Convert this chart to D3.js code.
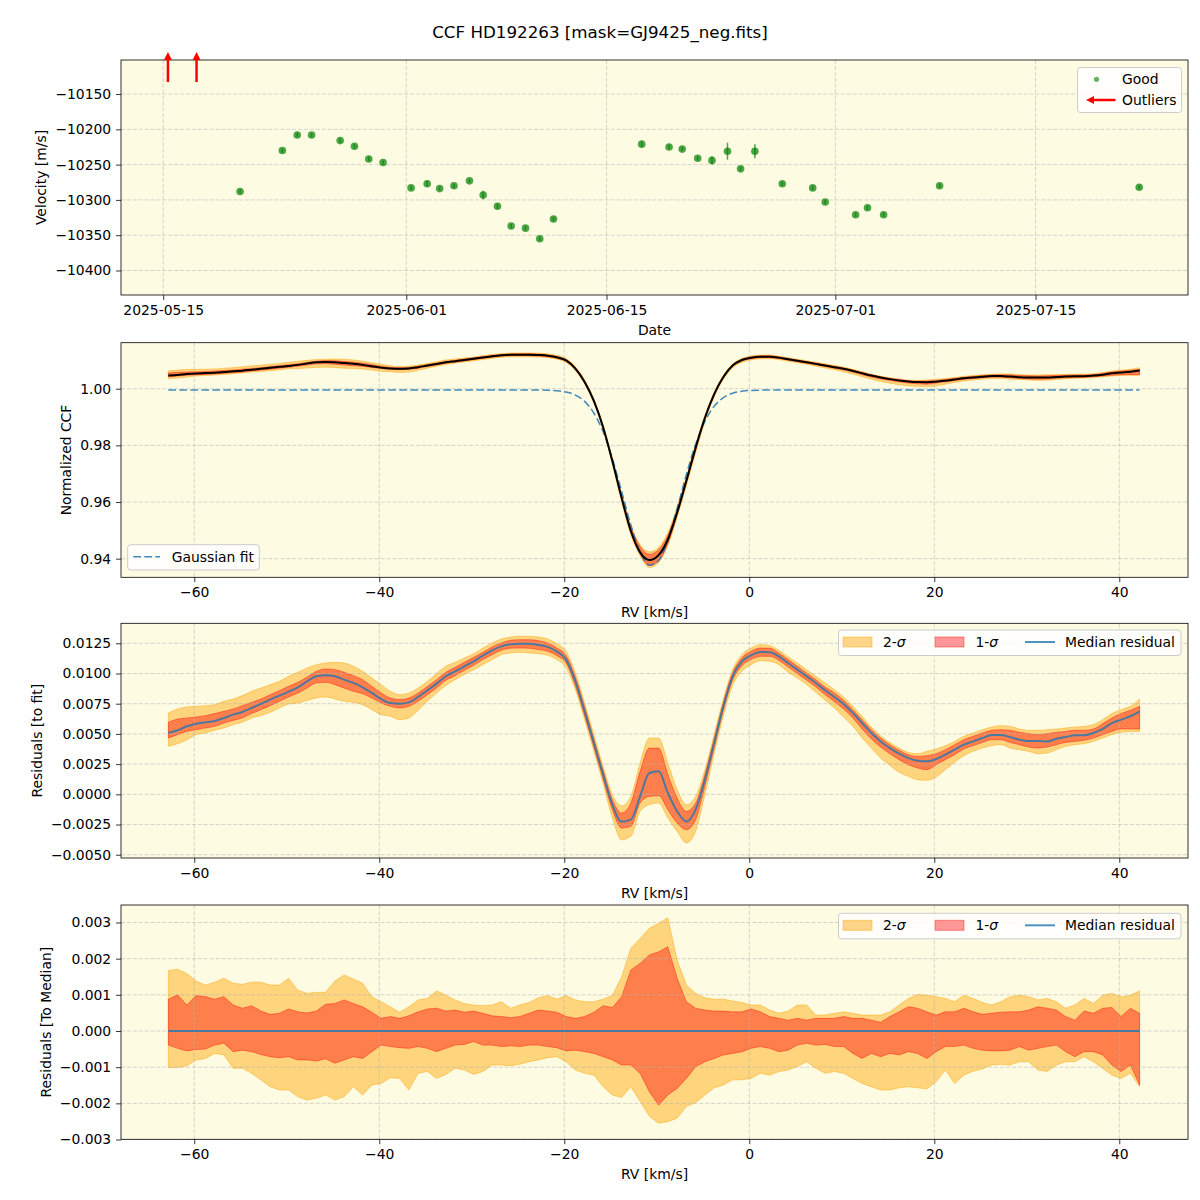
<!doctype html>
<html lang=en>
<head>
<meta charset="utf-8">
<title>CCF HD192263</title>
<script src="https://cdn.jsdelivr.net/npm/d3@7"></script>
<style>
body { margin: 0; background: #fff; }
svg text { font-family: "DejaVu Sans", sans-serif; fill: #000; }
</style>
</head>
<body>
<div id=chart></div>
<script>
// ---------- data ----------
var goodDates = ["2025-05-20T09:00","2025-05-23T08:00","2025-05-24T09:00","2025-05-25T09:00","2025-05-27T09:00",
  "2025-05-28T09:00","2025-05-29T09:00","2025-05-30T09:00","2025-06-01T08:00","2025-06-02T11:00",
  "2025-06-03T08:00","2025-06-04T08:00","2025-06-05T10:00","2025-06-06T09:00","2025-06-07T09:00",
  "2025-06-08T08:00","2025-06-09T08:00","2025-06-10T08:00","2025-06-11T07:00","2025-06-17T11:00",
  "2025-06-19T09:00","2025-06-20T07:00","2025-06-21T09:00","2025-06-22T09:00","2025-06-23T11:00",
  "2025-06-24T09:00","2025-06-25T09:00","2025-06-27T07:00","2025-06-29T10:00","2025-06-30T07:00",
  "2025-07-02T10:00","2025-07-03T06:00","2025-07-04T09:00","2025-07-08T07:00","2025-07-22T06:00"];
var goodVel = [-10288,-10230,-10208,-10208,-10216,-10224,-10242,-10247,-10283,-10277,
  -10284,-10280,-10273,-10293,-10309,-10337,-10340,-10355,-10327,-10221,
  -10225,-10228,-10241,-10244,-10231,-10256,-10231,-10277,-10283,-10303,
  -10321,-10311,-10321,-10280,-10282];
var goodErr = [3,3,3,3,3,3,3,3,3,4, 3,3,3,6,4,3,3,3,3,4, 3,3,3,6,12,3,10,3,3,3, 3,3,3,3,3];
var outlierDates = ["2025-05-15T08:00","2025-05-17T08:00"];

var dateTicks = ["2025-05-15","2025-06-01","2025-06-15","2025-07-01","2025-07-15"];
var velTicks = [-10150,-10200,-10250,-10300,-10350,-10400];
var rvTicks = [-60,-40,-20,0,20,40];
var ccfTicks = [0.94,0.96,0.98,1.00];
var resFitTicks = [-0.005,-0.0025,0,0.0025,0.005,0.0075,0.01,0.0125];
var resMedTicks = [-0.003,-0.002,-0.001,0,0.001,0.002,0.003];

var rv = [-62.8,-61.8,-60.8,-59.8,-58.8,-57.8,-56.8,-55.8,-54.8,-53.8,
  -52.8,-51.8,-50.8,-49.8,-48.8,-47.8,-46.8,-45.8,-44.8,-43.8,
  -42.8,-41.8,-40.8,-39.8,-38.8,-37.8,-36.8,-35.8,-34.8,-33.8,
  -32.8,-31.8,-30.8,-29.8,-28.8,-27.8,-26.8,-25.8,-24.8,-23.8,
  -22.8,-21.8,-20.8,-19.8,-18.8,-17.8,-16.8,-15.8,-14.8,-13.8,
  -12.8,-11.8,-10.8,-9.8,-8.8,-7.8,-6.8,-5.8,-4.8,-3.8,
  -2.8,-1.8,-0.8,0.2,1.2,2.2,3.2,4.2,5.2,6.2,
  7.2,8.2,9.2,10.2,11.2,12.2,13.2,14.2,15.2,16.2,
  17.2,18.2,19.2,20.2,21.2,22.2,23.2,24.2,25.2,26.2,
  27.2,28.2,29.2,30.2,31.2,32.2,33.2,34.2,35.2,36.2,
  37.2,38.2,39.2,40.2,41.2,42.2];

// Gaussian fit of the CCF
var gaussFit = [0.99955,0.99955,0.99955,0.99955,0.99955,0.99955,0.99955,0.99955,0.99955,0.99955,
  0.99955,0.99955,0.99955,0.99955,0.99955,0.99955,0.99955,0.99955,0.99955,0.99955,
  0.99955,0.99955,0.99955,0.99955,0.99955,0.99955,0.99955,0.99955,0.99955,0.99955,
  0.99955,0.99955,0.99955,0.99955,0.99955,0.99955,0.99955,0.99955,0.99955,0.99955,
  0.99953,0.99946,0.99929,0.99882,0.99775,0.99553,0.99143,0.98479,0.97531,0.96377,
  0.95187,0.94239,0.93775,0.93935,0.94666,0.95770,0.96973,0.98039,0.98845,0.99376,
  0.99683,0.99839,0.99911,0.99940,0.99950,0.99955,0.99955,0.99955,0.99955,0.99955,
  0.99955,0.99955,0.99955,0.99955,0.99955,0.99955,0.99955,0.99955,0.99955,0.99955,
  0.99955,0.99955,0.99955,0.99955,0.99955,0.99955,0.99955,0.99955,0.99955,0.99955,
  0.99955,0.99955,0.99955,0.99955,0.99955,0.99955,0.99955,0.99955,0.99955,0.99955,
  0.99955,0.99955,0.99955,0.99955,0.99955,0.99955];

// residuals to fit, units of 1e-3
var fitMed = [5.08,5.30,5.63,5.85,5.96,6.07,6.32,6.60,6.81,7.15,
  7.48,7.84,8.17,8.50,8.86,9.35,9.77,9.85,9.77,9.49,
  9.22,8.86,8.39,7.89,7.56,7.50,7.61,8.06,8.61,9.16,
  9.77,10.18,10.60,11.01,11.48,11.92,12.25,12.42,12.47,12.47,
  12.36,12.20,11.81,11.15,9.35,6.87,4.25,1.63,-0.86,-2.27,
  -2.10,-0.17,1.77,1.90,0.11,-1.41,-2.24,-1.27,1.21,4.25,
  7.28,9.77,11.01,11.51,11.78,11.75,11.42,10.87,10.32,9.77,
  9.22,8.61,8.06,7.48,6.73,5.90,5.08,4.38,3.83,3.36,
  3.00,2.78,2.73,2.92,3.28,3.70,4.11,4.38,4.66,4.91,
  4.91,4.74,4.52,4.41,4.41,4.38,4.60,4.74,4.88,4.88,
  5.08,5.41,5.90,6.18,6.46,6.87];
var fitHi1 = [5.96,6.23,6.32,6.40,6.51,6.68,6.87,7.06,7.34,7.61,
  7.89,8.25,8.58,8.94,9.27,9.71,10.18,10.37,10.32,10.10,
  9.82,9.49,8.94,8.39,7.97,7.84,7.97,8.39,8.94,9.49,
  10.10,10.51,10.93,11.34,11.75,12.20,12.53,12.75,12.80,12.80,
  12.72,12.53,12.11,11.48,9.71,7.23,4.58,1.98,-0.44,-1.55,
  -0.72,1.90,3.83,3.83,1.63,-0.30,-1.41,-0.72,1.63,4.58,
  7.61,10.04,11.29,11.84,12.11,12.09,11.70,11.15,10.60,10.04,
  9.49,8.88,8.39,7.78,7.01,6.18,5.35,4.66,4.11,3.64,
  3.28,3.14,3.20,3.36,3.70,4.11,4.52,4.80,5.08,5.30,
  5.35,5.30,5.13,5.02,4.94,5.02,5.13,5.21,5.30,5.30,
  5.41,5.85,6.32,6.68,6.95,7.28];
var fitLo1 = [4.67,4.94,5.21,5.35,5.49,5.63,5.90,6.12,6.32,6.68,
  7.01,7.34,7.70,8.06,8.39,8.80,9.22,9.27,9.08,8.80,
  8.53,8.33,7.97,7.56,7.28,7.15,7.28,7.70,8.25,8.80,
  9.44,9.82,10.26,10.68,11.15,11.56,11.92,12.09,12.11,12.09,
  11.98,11.84,11.48,10.87,9.00,6.51,3.92,1.27,-1.27,-2.79,
  -2.65,-0.72,-0.17,-0.11,-1.27,-2.38,-2.93,-2.10,0.66,3.83,
  6.95,9.44,10.65,11.15,11.42,11.42,11.09,10.54,9.99,9.44,
  8.88,8.25,7.67,7.06,6.32,5.41,4.58,3.92,3.36,2.87,
  2.45,2.18,2.04,2.45,2.87,3.28,3.75,4.03,4.30,4.52,
  4.52,4.30,4.11,3.92,3.83,3.92,4.11,4.30,4.38,4.47,
  4.66,4.94,5.21,5.41,5.41,5.41];
var fitHi2 = [6.73,7.06,7.23,7.28,7.34,7.42,7.70,7.89,8.17,8.53,
  8.80,9.08,9.35,9.77,10.10,10.46,10.73,10.87,10.93,10.87,
  10.60,10.18,9.63,9.08,8.53,8.25,8.39,8.80,9.35,10.00,
  10.60,10.93,11.29,11.64,12.11,12.53,12.86,13.02,13.08,13.08,
  13.02,12.86,12.47,11.84,10.04,7.56,4.94,2.32,-0.03,-0.94,
  -0.17,2.59,4.66,4.66,2.59,0.39,-0.86,-0.17,2.04,4.94,
  7.89,10.32,11.56,12.11,12.39,12.31,11.92,11.37,10.87,10.32,
  9.77,9.22,8.66,8.06,7.28,6.46,5.57,4.85,4.30,3.83,
  3.47,3.36,3.56,3.75,4.03,4.38,4.80,5.08,5.35,5.57,
  5.68,5.63,5.41,5.30,5.30,5.35,5.41,5.49,5.57,5.63,
  5.77,6.18,6.68,7.01,7.28,7.89];
var fitLo2 = [3.98,4.19,4.52,4.94,5.08,5.30,5.49,5.77,5.96,6.32,
  6.51,6.79,7.15,7.48,7.56,7.78,7.97,8.06,7.89,7.70,
  7.61,7.42,7.01,6.59,6.46,6.18,6.32,6.95,7.70,8.39,
  9.00,9.49,9.91,10.32,10.73,11.15,11.56,11.70,11.75,11.70,
  11.64,11.51,11.15,10.46,8.66,6.18,3.56,0.88,-1.96,-3.76,
  -3.48,-1.41,-0.86,-0.72,-1.96,-3.07,-4.03,-3.07,-0.03,3.36,
  6.51,9.00,10.18,10.73,11.06,11.01,10.73,10.10,9.63,9.08,
  8.44,7.78,7.15,6.40,5.63,4.66,3.83,3.00,2.40,1.82,
  1.49,1.21,1.16,1.43,2.04,2.65,3.20,3.56,3.83,4.03,
  4.11,3.83,3.69,3.56,3.36,3.42,3.69,3.97,4.11,4.19,
  4.38,4.66,4.94,5.13,5.21,5.21];

// residuals to median, units of 1e-3
var medMed = [0,0,0,0,0,0,0,0,0,0, 0,0,0,0,0,0,0,0,0,0, 0,0,0,0,0,0,0,0,0,0,
  0,0,0,0,0,0,0,0,0,0, 0,0,0,0,0,0,0,0,0,0, 0,0,0,0,0,0,0,0,0,0,
  0,0,0,0,0,0,0,0,0,0, 0,0,0,0,0,0,0,0,0,0, 0,0,0,0,0,0,0,0,0,0,
  0,0,0,0,0,0,0,0,0,0, 0,0,0,0,0,0];
var medHi2 = [1.67,1.71,1.59,1.38,1.27,1.35,1.46,1.32,1.29,1.35,
  1.35,1.27,1.27,1.46,1.13,1.04,1.07,1.07,1.38,1.55,
  1.44,1.32,0.95,0.81,0.67,0.52,0.67,0.86,0.90,1.11,
  0.99,0.86,0.76,0.72,0.70,0.72,0.81,0.63,0.72,0.79,
  0.92,0.98,0.88,0.98,0.86,0.81,0.81,0.88,0.98,1.50,
  2.29,2.56,2.84,2.98,3.13,1.96,1.27,1.04,0.92,0.88,
  0.88,0.83,0.79,0.72,0.72,0.58,0.49,0.55,0.72,0.72,
  0.44,0.44,0.49,0.53,0.49,0.44,0.44,0.44,0.53,0.72,
  0.90,1.01,0.99,0.95,0.90,0.81,0.99,0.90,0.79,0.72,
  0.81,0.95,0.99,0.95,0.86,0.90,0.81,0.63,0.72,0.90,
  0.76,0.99,1.04,0.95,0.99,1.11];
var medHi1 = [0.88,1.00,0.72,0.98,0.95,0.88,0.95,0.72,0.63,0.70,
  0.55,0.46,0.49,0.61,0.53,0.50,0.55,0.74,0.76,0.86,
  0.76,0.67,0.52,0.35,0.40,0.35,0.42,0.53,0.61,0.63,
  0.55,0.58,0.52,0.55,0.49,0.42,0.40,0.37,0.40,0.49,
  0.58,0.55,0.52,0.40,0.35,0.40,0.52,0.70,0.65,0.95,
  1.69,1.87,2.10,2.19,2.33,1.46,0.81,0.63,0.58,0.55,
  0.55,0.53,0.53,0.61,0.53,0.40,0.35,0.30,0.35,0.30,
  0.35,0.35,0.35,0.40,0.35,0.35,0.30,0.24,0.40,0.53,
  0.67,0.63,0.53,0.44,0.53,0.53,0.63,0.53,0.46,0.49,
  0.52,0.53,0.53,0.58,0.67,0.63,0.58,0.40,0.30,0.55,
  0.49,0.63,0.65,0.40,0.63,0.49];
var medLo1 = [-0.39,-0.48,-0.55,-0.51,-0.50,-0.39,-0.34,-0.57,-0.53,-0.57,
  -0.65,-0.71,-0.74,-0.71,-0.80,-0.80,-0.83,-0.77,-0.89,-0.80,
  -0.71,-0.76,-0.57,-0.39,-0.43,-0.46,-0.48,-0.43,-0.48,-0.57,
  -0.48,-0.39,-0.37,-0.29,-0.39,-0.39,-0.43,-0.41,-0.43,-0.39,
  -0.39,-0.43,-0.46,-0.55,-0.53,-0.57,-0.62,-0.71,-0.80,-0.94,
  -0.94,-1.17,-1.68,-2.05,-1.77,-1.59,-1.31,-0.99,-0.85,-0.76,
  -0.66,-0.62,-0.57,-0.48,-0.43,-0.48,-0.57,-0.53,-0.39,-0.34,
  -0.39,-0.37,-0.43,-0.43,-0.62,-0.76,-0.62,-0.71,-0.62,-0.66,
  -0.57,-0.62,-0.76,-0.57,-0.43,-0.43,-0.39,-0.48,-0.53,-0.55,
  -0.55,-0.53,-0.43,-0.53,-0.48,-0.43,-0.39,-0.57,-0.71,-0.57,
  -0.57,-0.66,-0.94,-1.12,-0.94,-1.49];
var medLo2 = [-1.01,-1.01,-0.96,-0.80,-0.76,-0.62,-0.66,-1.03,-1.03,-1.17,
  -1.35,-1.54,-1.63,-1.63,-1.82,-1.91,-1.86,-1.77,-1.91,-1.82,
  -1.54,-1.77,-1.49,-1.45,-1.29,-1.31,-1.63,-1.17,-1.12,-1.31,
  -1.20,-1.03,-1.08,-1.20,-1.12,-0.94,-0.94,-0.96,-0.92,-0.85,
  -0.80,-0.74,-0.71,-0.85,-1.08,-1.17,-1.22,-1.54,-1.77,-1.84,
  -1.54,-1.95,-2.36,-2.55,-2.51,-2.41,-2.09,-1.98,-1.77,-1.57,
  -1.49,-1.35,-1.35,-1.31,-1.17,-1.22,-1.12,-1.08,-0.98,-0.85,
  -1.03,-1.17,-1.12,-1.17,-1.31,-1.45,-1.54,-1.63,-1.63,-1.57,
  -1.54,-1.57,-1.60,-1.40,-1.08,-1.45,-1.22,-1.11,-1.05,-0.94,
  -0.92,-0.94,-0.85,-0.85,-1.08,-1.12,-0.94,-0.85,-0.85,-0.71,
  -0.85,-1.03,-1.22,-1.31,-1.17,-1.54];

// ---------- layout ----------
var L = 121, R = 1188;
var bgCol = "#fefbe3";
var fs = 13.9;

var svg = d3.select("#chart").append("svg")
  .attr("width", 1200).attr("height", 1200);
svg.append("rect").attr("width", 1200).attr("height", 1200).attr("fill", "white");

svg.append("text").attr("x", 600).attr("y", 38)
  .attr("text-anchor", "middle").style("font-size", "16.7px")
  .text("CCF HD192263 [mask=GJ9425_neg.fits]");

var parseT = d => new Date(d + (d.length > 10 ? ":00Z" : "T00:00:00Z"));

// panel frame, grid and axes
function panel(top, bottom, x, y, xt, yt, xfmt, yfmt) {
  var g = svg.append("g");
  g.append("rect").attr("x", L).attr("y", top).attr("width", R - L)
    .attr("height", bottom - top).attr("fill", bgCol);
  var layers = {
    fills: g.append("g"),
    grid: g.append("g"),
    lines: g.append("g"),
    axes: g.append("g")
  };
  var gl = layers.grid.attr("stroke", "#b0b0b0").attr("stroke-opacity", 0.65)
    .attr("stroke-width", 0.8).attr("stroke-dasharray", "4.1,1.8");
  xt.forEach(function(t) {
    gl.append("line").attr("x1", x(t)).attr("x2", x(t)).attr("y1", top).attr("y2", bottom);
  });
  yt.forEach(function(t) {
    gl.append("line").attr("x1", L).attr("x2", R).attr("y1", y(t)).attr("y2", y(t));
  });
  var xa = layers.axes.append("g").attr("transform", "translate(0," + bottom + ")")
    .call(d3.axisBottom(x).tickValues(xt).tickFormat(xfmt).tickSize(4.9).tickPadding(4.9).tickSizeOuter(0));
  var ya = layers.axes.append("g").attr("transform", "translate(" + L + ",0)")
    .call(d3.axisLeft(y).tickValues(yt).tickFormat(yfmt).tickSize(4.9).tickPadding(4.9).tickSizeOuter(0));
  [xa, ya].forEach(function(a) {
    a.select(".domain").remove();
    a.selectAll("line").attr("stroke", "#000").attr("stroke-width", 0.8);
    a.selectAll("text").style("font-size", fs + "px").style("font-family", "DejaVu Sans");
  });
  layers.axes.append("rect").attr("x", L).attr("y", top).attr("width", R - L)
    .attr("height", bottom - top).attr("fill", "none").attr("stroke", "#000").attr("stroke-width", 0.8);
  return layers;
}

function xLabel(txt, bottom) {
  svg.append("text").attr("x", (L + R) / 2).attr("y", bottom + 40)
    .attr("text-anchor", "middle").style("font-size", fs + "px").text(txt);
}
function yLabel(txt, cx, top, bottom) {
  svg.append("text").attr("transform", "translate(" + (cx + 5) + "," + ((top + bottom) / 2) + ") rotate(-90)")
    .attr("text-anchor", "middle").style("font-size", fs + "px").text(txt);
}

function legendBox(x0, y0, w, h) {
  svg.append("rect").attr("x", x0).attr("y", y0).attr("width", w).attr("height", h)
    .attr("rx", 3).attr("fill", "white").attr("fill-opacity", 0.8)
    .attr("stroke", "#cccccc").attr("stroke-width", 1);
}

function legendText(txt, x0, yc) {
  svg.append("text").attr("x", x0).attr("y", yc + 5).style("font-size", fs + "px").text(txt);
}

function sigmaText(prefix, x0, yc) {
  var t = svg.append("text").attr("x", x0).attr("y", yc + 5).style("font-size", fs + "px");
  t.append("tspan").text(prefix);
  t.append("tspan").style("font-style", "italic").text("σ");
}

// ---------- panel 1: velocities ----------
var p1 = {top: 60, bottom: 295};
var x1 = d3.scaleUtc()
  .domain([parseT("2025-05-12T01:12"), parseT("2025-07-25T15:50")])
  .range([L, R]);
var y1 = d3.scaleLinear().domain([-10434.7, -10101.8]).range([p1.bottom, p1.top]);
var dTicks = dateTicks.map(parseT);
var lay1 = panel(p1.top, p1.bottom, x1, y1, dTicks, velTicks, d3.utcFormat("%Y-%m-%d"), d3.format("d"));

var good = goodDates.map((d, i) => ({t: parseT(d), v: goodVel[i], e: goodErr[i]}));
lay1.lines.selectAll("line.err").data(good).enter().append("line")
  .attr("x1", d => x1(d.t)).attr("x2", d => x1(d.t))
  .attr("y1", d => y1(d.v - d.e)).attr("y2", d => y1(d.v + d.e))
  .attr("stroke", "green").attr("stroke-opacity", 0.7).attr("stroke-width", 1.5);
lay1.lines.selectAll("circle").data(good).enter().append("circle")
  .attr("cx", d => x1(d.t)).attr("cy", d => y1(d.v)).attr("r", 3.8)
  .attr("fill", "green").attr("fill-opacity", 0.7);

// outliers: arrows above the axes
outlierDates.forEach(function(d) {
  var xo = x1(parseT(d));
  var base = p1.top + 22, tip = p1.top - 8;
  svg.append("line").attr("x1", xo).attr("x2", xo).attr("y1", base).attr("y2", tip + 7)
    .attr("stroke", "red").attr("stroke-width", 2.5);
  svg.append("path").attr("d", "M" + xo + "," + tip + "L" + (xo - 4) + "," + (tip + 8) + "L" + (xo + 4) + "," + (tip + 8) + "Z")
    .attr("fill", "red");
});

xLabel("Date", p1.bottom);
yLabel("Velocity [m/s]", 41, p1.top, p1.bottom);

legendBox(1077.5, 67.5, 104, 45);
svg.append("circle").attr("cx", 1096.5).attr("cy", 79.3).attr("r", 2.6)
  .attr("fill", "green").attr("fill-opacity", 0.6);
legendText("Good", 1122, 79.3);
svg.append("line").attr("x1", 1115.5).attr("x2", 1093).attr("y1", 100).attr("y2", 100)
  .attr("stroke", "red").attr("stroke-width", 2.5);
svg.append("path").attr("d", "M1086,100L1094,96L1094,104Z").attr("fill", "red");
legendText("Outliers", 1122, 100);

// ---------- RV panels ----------
var xr = d3.scaleLinear().domain([-67.92, 47.43]).range([L, R]);
var rvFmt = d3.format("d");

function bands(layer, y, lo2, hi2, lo1, hi1, curve) {
  var a2 = d3.area().x((d, i) => xr(rv[i])).y0((d, i) => y(lo2[i])).y1((d, i) => y(hi2[i])).curve(curve);
  var a1 = d3.area().x((d, i) => xr(rv[i])).y0((d, i) => y(lo1[i])).y1((d, i) => y(hi1[i])).curve(curve);
  layer.append("path").attr("d", a2(rv)).attr("fill", "orange").attr("fill-opacity", 0.45)
    .attr("stroke", "orange").attr("stroke-opacity", 0.45).attr("stroke-width", 1);
  layer.append("path").attr("d", a1(rv)).attr("fill", "red").attr("fill-opacity", 0.4)
    .attr("stroke", "red").attr("stroke-opacity", 0.4).attr("stroke-width", 1);
}

function bandLegend(y0) {
  legendBox(838.5, y0, 342.5, 25.5);
  var yc = y0 + 12;
  svg.append("rect").attr("x", 843).attr("y", yc - 5).attr("width", 29).attr("height", 10)
    .attr("fill", "orange").attr("fill-opacity", 0.45).attr("stroke", "orange").attr("stroke-opacity", 0.45);
  sigmaText("2-", 883, yc);
  svg.append("rect").attr("x", 935).attr("y", yc - 5).attr("width", 29).attr("height", 10)
    .attr("fill", "red").attr("fill-opacity", 0.4).attr("stroke", "red").attr("stroke-opacity", 0.4);
  sigmaText("1-", 975.5, yc);
  svg.append("line").attr("x1", 1025).attr("x2", 1055).attr("y1", yc).attr("y2", yc)
    .attr("stroke", "#1f77b4").attr("stroke-opacity", 0.8).attr("stroke-width", 2);
  legendText("Median residual", 1065, yc);
}

// panel 2: normalized CCF
var p2 = {top: 342.7, bottom: 577.3};
var y2 = d3.scaleLinear().domain([0.93343, 1.01624]).range([p2.bottom, p2.top]);
var lay2 = panel(p2.top, p2.bottom, xr, y2, rvTicks, ccfTicks, rvFmt, d3.format(".2f"));
var plus = arr => arr.map((v, i) => gaussFit[i] + v / 1000);
bands(lay2.fills, y2, plus(fitLo2), plus(fitHi2), plus(fitLo1), plus(fitHi1), d3.curveMonotoneX);
var ccfMed = plus(fitMed);
lay2.lines.append("path")
  .attr("d", d3.line().x((d, i) => xr(rv[i])).y(d => y2(d)).curve(d3.curveMonotoneX)(gaussFit))
  .attr("fill", "none").attr("stroke", "#1f77b4").attr("stroke-opacity", 0.85)
  .attr("stroke-width", 1.5).attr("stroke-dasharray", "7.7,3.3");
lay2.lines.append("path")
  .attr("d", d3.line().x((d, i) => xr(rv[i])).y(d => y2(d)).curve(d3.curveMonotoneX)(ccfMed))
  .attr("fill", "none").attr("stroke", "black").attr("stroke-width", 2);
xLabel("RV [km/s]", p2.bottom);
yLabel("Normalized CCF", 66, p2.top, p2.bottom);
legendBox(127.7, 544.7, 131.6, 25.3);
svg.append("line").attr("x1", 133.3).attr("x2", 160).attr("y1", 556.7).attr("y2", 556.7)
  .attr("stroke", "#1f77b4").attr("stroke-opacity", 0.85).attr("stroke-width", 1.5)
  .attr("stroke-dasharray", "7.7,3.3");
legendText("Gaussian fit", 171.7, 556.7);

// panel 3: residuals to fit
var p3 = {top: 623.3, bottom: 858};
var y3 = d3.scaleLinear().domain([-0.00527, 0.014156]).range([p3.bottom, p3.top]);
var lay3 = panel(p3.top, p3.bottom, xr, y3, rvTicks, resFitTicks, rvFmt, d3.format(".4f"));
var k = arr => arr.map(v => v / 1000);
bands(lay3.fills, y3, k(fitLo2), k(fitHi2), k(fitLo1), k(fitHi1), d3.curveMonotoneX);
lay3.lines.append("path")
  .attr("d", d3.line().x((d, i) => xr(rv[i])).y(d => y3(d / 1000)).curve(d3.curveMonotoneX)(fitMed))
  .attr("fill", "none").attr("stroke", "#1f77b4").attr("stroke-opacity", 0.8).attr("stroke-width", 2);
xLabel("RV [km/s]", p3.bottom);
yLabel("Residuals [to fit]", 37, p3.top, p3.bottom);
bandLegend(630);

// panel 4: residuals to median
var p4 = {top: 905, bottom: 1139.3};
var y4 = d3.scaleLinear().domain([-0.002994, 0.003484]).range([p4.bottom, p4.top]);
var lay4 = panel(p4.top, p4.bottom, xr, y4, rvTicks, resMedTicks, rvFmt, d3.format(".3f"));
bands(lay4.fills, y4, k(medLo2), k(medHi2), k(medLo1), k(medHi1), d3.curveLinear);
lay4.lines.append("path")
  .attr("d", d3.line().x((d, i) => xr(rv[i])).y(d => y4(d / 1000))(medMed))
  .attr("fill", "none").attr("stroke", "#1f77b4").attr("stroke-opacity", 0.8).attr("stroke-width", 2);
xLabel("RV [km/s]", p4.bottom);
yLabel("Residuals [To Median]", 46, p4.top, p4.bottom);
bandLegend(913.3);
</script>
</body>
</html>
